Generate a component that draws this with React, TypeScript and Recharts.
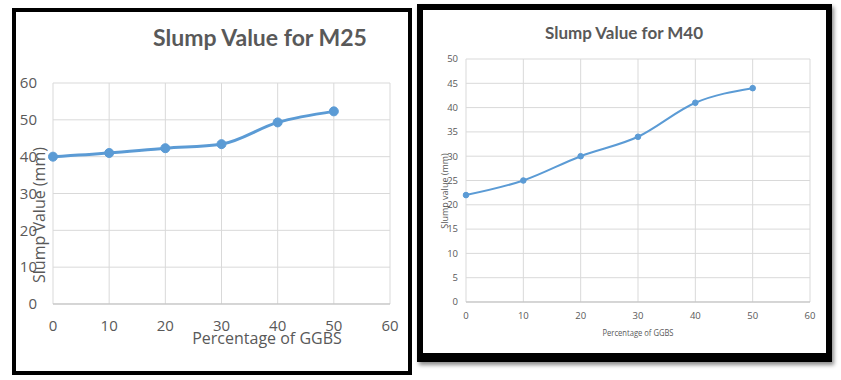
import React from 'react';
import { LineChart, Line, XAxis, YAxis, CartesianGrid } from 'recharts';

const PERCENT_GGBS = [0, 10, 20, 30, 40, 50];
const SLUMP_M25 = [40, 41, 42.3, 43.4, 49.3, 52.3];
const SLUMP_M40 = [22, 25, 30, 34, 41, 44];
const X_TICKS = [0, 10, 20, 30, 40, 50, 60];
const Y_TICKS_M25 = [0, 10, 20, 30, 40, 50, 60];
const Y_TICKS_M40 = [0, 5, 10, 15, 20, 25, 30, 35, 40, 45, 50];

const BLUE = '#5B9BD5';
const GRID = '#d9d9d9';
const TEXT = '#595959';
const FONT = '"Open Sans", sans-serif';

const m25Data = PERCENT_GGBS.map((x, i) => ({ x, slump: SLUMP_M25[i] }));
const m40Data = PERCENT_GGBS.map((x, i) => ({ x, slump: SLUMP_M40[i] }));

const abs = (left: number, top: number): React.CSSProperties => ({
  position: 'absolute',
  left,
  top,
  whiteSpace: 'nowrap',
});

export default function App() {
  return (
    <div style={{ position: 'absolute', left: 0, top: 0, width: 841, height: 380, background: '#fff', overflow: 'hidden' }}>
      {/* M25 panel */}
      <div
        style={{
          position: 'absolute',
          left: 12,
          top: 8,
          width: 400,
          height: 367,
          border: '4px solid #000',
          boxSizing: 'border-box',
          background: '#fff',
        }}
      >
        <LineChart width={392} height={359} data={m25Data} margin={{ top: 71, right: 18, left: 0, bottom: 0 }}>
          <CartesianGrid stroke={GRID} />
          <XAxis
            type="number"
            dataKey="x"
            domain={[0, 60]}
            ticks={X_TICKS}
            height={67}
            tickSize={0}
            tickMargin={16}
            axisLine={{ stroke: '#bfbfbf' }}
            tick={{ fill: TEXT, fontSize: 15, fontFamily: FONT }}
          />
          <YAxis
            type="number"
            domain={[0, 60]}
            ticks={Y_TICKS_M25}
            width={37}
            tickSize={0}
            tickMargin={16}
            axisLine={false}
            tick={{ fill: TEXT, fontSize: 15, fontFamily: FONT }}
          />
          <Line
            type="monotone"
            dataKey="slump"
            stroke={BLUE}
            strokeWidth={3}
            dot={{ r: 4.5, fill: BLUE, stroke: BLUE, strokeWidth: 1 }}
            isAnimationActive={false}
          />
        </LineChart>
      </div>
      <div
        style={{
          ...abs(260, 37),
          transform: 'translate(-50%, -50%)',
          fontFamily: 'Lato, sans-serif',
          fontWeight: 700,
          fontSize: 23,
          color: TEXT,
        }}
      >
        Slump Value for M25
      </div>
      <div
        style={{
          ...abs(267, 338),
          transform: 'translate(-50%, -50%)',
          fontFamily: FONT,
          fontSize: 16,
          color: TEXT,
        }}
      >
        Percentage of GGBS
      </div>
      <div
        style={{
          ...abs(39, 215),
          transform: 'translate(-50%, -50%) rotate(-90deg)',
          fontFamily: FONT,
          fontSize: 16,
          color: TEXT,
        }}
      >
        Slump Value (mm)
      </div>

      {/* M40 panel */}
      <div
        style={{
          position: 'absolute',
          left: 417,
          top: 4,
          width: 415,
          height: 358,
          borderStyle: 'solid',
          borderColor: '#000',
          borderWidth: '6px 6px 9px 6px',
          boxSizing: 'border-box',
          background: '#fff',
          boxShadow: '2px 3px 4px rgba(0,0,0,0.45)',
        }}
      >
        <LineChart width={403} height={343} data={m40Data} margin={{ top: 49, right: 16, left: 0, bottom: 0 }}>
          <CartesianGrid stroke={GRID} />
          <XAxis
            type="number"
            dataKey="x"
            domain={[0, 60]}
            ticks={X_TICKS}
            height={51}
            tickSize={0}
            tickMargin={10}
            axisLine={{ stroke: '#bfbfbf' }}
            tick={{ fill: TEXT, fontSize: 9.5, fontFamily: FONT }}
          />
          <YAxis
            type="number"
            domain={[0, 50]}
            ticks={Y_TICKS_M40}
            width={43}
            tickSize={0}
            tickMargin={8}
            axisLine={false}
            tick={{ fill: TEXT, fontSize: 9.5, fontFamily: FONT }}
          />
          <Line
            type="monotone"
            dataKey="slump"
            stroke={BLUE}
            strokeWidth={2}
            dot={{ r: 2.8, fill: BLUE, stroke: BLUE, strokeWidth: 1 }}
            isAnimationActive={false}
          />
        </LineChart>
      </div>
      <div
        style={{
          ...abs(624, 32),
          transform: 'translate(-50%, -50%)',
          fontFamily: 'Lato, sans-serif',
          fontWeight: 700,
          fontSize: 17,
          color: TEXT,
        }}
      >
        Slump Value for M40
      </div>
      <div
        style={{
          ...abs(638, 332),
          transform: 'translate(-50%, -50%) scaleX(0.8)',
          fontFamily: FONT,
          fontSize: 9.5,
          color: TEXT,
        }}
      >
        Percentage of GGBS
      </div>
      <div
        style={{
          ...abs(444, 191),
          transform: 'translate(-50%, -50%) rotate(-90deg)',
          fontFamily: FONT,
          fontSize: 9,
          color: TEXT,
        }}
      >
        Slump value (mm)
      </div>
    </div>
  );
}
